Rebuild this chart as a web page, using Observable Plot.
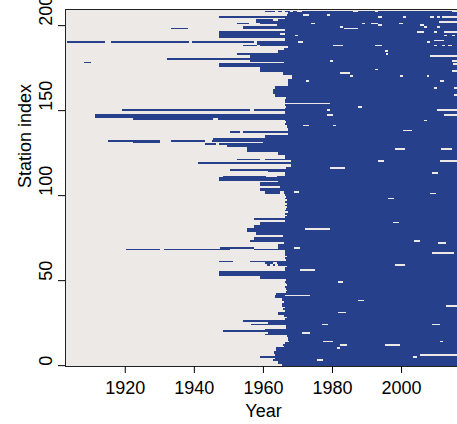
<!DOCTYPE html>
<html>
<head>
<meta charset="utf-8">
<script src="https://cdn.jsdelivr.net/npm/d3@7"></script>
<script src="https://cdn.jsdelivr.net/npm/@observablehq/plot@0.6"></script>
<style>
  html, body { margin: 0; padding: 0; background: #ffffff; overflow: hidden; }
  svg { max-width: none !important; }
</style>
</head>
<body>
<script>
// First year with (near-)continuous records, per station index 0..208
const stationStart = [
  1965.5, 1964.5, 1964.5, 1963, 1963.5, 1959.2, 1963.5, 1963.2, 1963.2, 1963.8,   // 0-9
  1963.8, 1966, 1965.7, 1966.5, 1967.5, 1967.4, 1967.4, 1967, 1960.6, 1961.5,     // 10-19
  1948.3, 1960.6, 1966.8, 1966.8, 1956.5, 1961.5, 1954.3, 1966.5, 1967, 1966,     // 20-29
  1964.3, 1964.3, 1966.5, 1965.7, 1966.5, 1965.5, 1965.5, 1966, 1965.5, 1965.5,   // 30-39
  1963.5, 1963.5, 1963.8, 1966.8, 1967, 1966.8, 1966.5, 1967, 1966.8, 1966.5,     // 40-49
  1966.8, 1959.1, 1959.1, 1947.2, 1947.2, 1947.2, 1966.5, 1966.5, 1967, 1964.5,   // 50-59
  1964, 1956.2, 1966.8, 1966.5, 1967, 1966.5, 1966.5, 1966.5, 1957.4, 1964.5,     // 60-69
  1964.5, 1964.5, 1966, 1956.4, 1957.4, 1957.4, 1965.7, 1958, 1958, 1955.5,       // 70-79
  1955.5, 1957.4, 1957.4, 1959.1, 1959.1, 1966.5, 1957.4, 1966.5, 1967, 1966.5,   // 80-89
  1967.4, 1966.5, 1966.8, 1967, 1966.5, 1967, 1966.5, 1967, 1966.5, 1966.8,       // 90-99
  1966.5, 1960.6, 1960.6, 1959.1, 1959.1, 1965, 1959.1, 1959.1, 1964.5, 1947.2,   // 100-109
  1947.2, 1948.3, 1966.5, 1966.5, 1961.4, 1950.4, 1966.8, 1968, 1968, 1941.2,     // 110-119
  1968, 1960.6, 1966.5, 1966.5, 1964.5, 1964.5, 1955.5, 1955.5, 1955.5, 1949.5,   // 120-129
  1947.2, 1960, 1945.4, 1945.6, 1960.6, 1960.6, 1967.4, 1954.1, 1967.4, 1967.4,   // 130-139
  1967, 1967, 1966.5, 1966.8, 1966.5, 1922.3, 1911.5, 1911.5, 1966.5, 1966.5,     // 140-149
  1957.4, 1966.5, 1966.8, 1966.5, 1979.4, 1966.5, 1966.5, 1966.8, 1963.5, 1963.5, // 150-159
  1963, 1963, 1963, 1963.5, 1963.5, 1967.4, 1967.4, 1967.4, 1967.4, 1968.5,       // 160-169
  1968.5, 1965.7, 1965.7, 1959.1, 1959.1, 1959.1, 1947.2, 1947.2, 1966, 1956.2,   // 170-179
  1932.2, 1956.2, 1956.2, 1952.4, 1964.5, 1964.5, 1966, 1966.5, 1959.1, 1958.2,   // 180-189
  1958.3, 1966.5, 1966.5, 1947.2, 1947.2, 1966.5, 1947.2, 1966.5, 1954.3, 1954.3, // 190-199
  1964, 1959.1, 1958, 1964.5, 1966.5, 1947.2, 1967, 1967.4, 1960.6                // 200-208
];

// Isolated early records: [station, from, to]
const earlyRuns = [
  [190, 1903.2, 1914.2], [190, 1916.1, 1938.6], [190, 1939.5, 1957.4],
  [198, 1933.5, 1938.3], [195, 1947.2, 1964.9], [201, 1952.4, 1956],
  [203, 1958, 1963], [188, 1954.3, 1958.2], [178, 1908.2, 1910.2],
  [150, 1919.3, 1956.2], [137, 1950.4, 1953.3],
  [132, 1915.2, 1930.1], [132, 1933.5, 1943.2], [131, 1922.4, 1930.1],
  [130, 1943.2, 1946.4], [121, 1952.4, 1959.1],
  [69, 1947.5, 1957.4], [68, 1920.3, 1930.3], [68, 1931.3, 1950.4],
  [61, 1947.3, 1951.4], [60, 1960.6, 1963], [59, 1961.2, 1962], [59, 1963, 1963.5]
];

// Missing periods inside records: [station, from, to]
const gaps = [
  [208, 1963.5, 1964.3], [208, 1965.4, 1966.4], [208, 1967.8, 1968.8], [208, 1969.8, 1971.2],
  [208, 1986.2, 1987.6], [208, 1992.5, 1993.4], [208, 2014.7, 2017.5],
  [206, 1971.5, 1973.4], [206, 1978.5, 1979.4],
  [205, 1993.4, 1994.4], [205, 2000.5, 2001.4], [205, 2008.4, 2009.4], [205, 2010.3, 2011.3], [205, 2011.8, 2017.5],
  [202, 2011, 2017.5],
  [201, 1974, 1975], [201, 1988.6, 1989.6], [201, 1991.3, 1993.4], [201, 1999.5, 2000.5],
  [200, 2005.5, 2006.7], [200, 1993.4, 1994.4],
  [199, 1982.3, 1983.3], [199, 2010.3, 2011.3], [199, 2006.5, 2007.4],
  [198, 1983.5, 1987.6],
  [196, 2004.5, 2006.5], [196, 2009.4, 2010.3], [196, 2012.3, 2017.5],
  [194, 1969.3, 1970.2], [194, 2012.3, 2013.3], [194, 2014.7, 2015.7],
  [191, 2009.4, 2012.3],
  [190, 1970.2, 1971.5], [190, 2007.4, 2008.4],
  [188, 1980.4, 1983.3], [188, 1992.5, 1994.4], [188, 2009.4, 2010.3], [188, 2011.8, 2012.8], [188, 2013.7, 2014.7],
  [187, 1966.4, 1967.3],
  [185, 1995.4, 1996.3], [183, 1995.7, 1996.3],
  [182, 2008.4, 2017.5],
  [179, 1979.4, 1980.4], [179, 2014.7, 2017.5],
  [177, 2015, 2017.5], [174, 1992.5, 1993.4], [173, 2014.7, 2017.5],
  [172, 1982.3, 1985.2],
  [170, 1985.2, 1986.2], [170, 1999.7, 2000.5], [170, 2007.4, 2008.2],
  [167, 1972.5, 1973.4], [167, 2011.3, 2012.3],
  [163, 2009.4, 2010.3], [163, 2015.3, 2017.5], [159, 2015.3, 2017.5],
  [152, 1987.6, 1988.6],
  [150, 1978.5, 1979.4], [150, 2010.3, 2017.5],
  [147, 1978.5, 1980.2], [147, 2012.3, 2017.5],
  [145, 1945.5, 1947], [144, 2006.5, 2007.4],
  [141, 1971.7, 1973.4], [141, 1980.4, 1981.3],
  [138, 2000.6, 2003.2],
  [127, 1998.3, 2001.2], [127, 2011.6, 2014.8],
  [120, 2011.3, 2017.5], [120, 1993.3, 1995],
  [116, 1979.4, 1983.8], [113, 2009, 2010.7], [111, 1961, 1964],
  [101, 1965, 1966.2], [102, 1965, 1966.2], [102, 1969, 1970.4], [101, 2008.4, 2010.1],
  [98, 1996.2, 1998], [84, 1997.7, 1999.4], [80, 1972.2, 1979.4],
  [73, 2003.8, 2005.5], [72, 2010.7, 2013], [69, 1969, 1970.7], [66, 2009, 2015.4],
  [59, 1998.3, 2001.2], [56, 1970.7, 1975], [49, 1981.7, 1983.2], [41, 1966.4, 1973.6],
  [38, 1987.5, 1989.3], [35, 2013, 2017.5], [31, 1981.7, 1984],
  [24, 1977.1, 1978.8], [24, 2009, 2011.3], [19, 1971.3, 1973.6],
  [14, 1977.4, 1980.3], [14, 2011.3, 2012.2],
  [12, 1982.3, 1984.3], [12, 1995.4, 1999.7], [10, 1981.4, 1982.3],
  [6, 2005.5, 2017.5], [5, 2003.5, 2004.6], [3, 1975.7, 1977.4]
];

const lastYear = 2017;
const xTicks = [1920, 1940, 1960, 1980, 2000];
const yTicks = [0, 50, 100, 150, 200];
const xTitle = "Year";
const yTitle = "Station index";

// Build record segments (main record minus gaps, plus early runs)
const segs = [];
stationStart.forEach((start, s) => {
  let pieces = [[start, lastYear]];
  for (const [gs, g0, g1] of gaps) {
    if (gs !== s) continue;
    pieces = pieces.flatMap(([a, b]) =>
      (g1 <= a || g0 >= b) ? [[a, b]] : [[a, g0], [g1, b]].filter(([p, q]) => q > p));
  }
  pieces.forEach(([a, b]) => segs.push({station: s, x1: a, x2: b}));
});
earlyRuns.forEach(([s, a, b]) => segs.push({station: s, x1: a, x2: b}));

const blue = "#27408B";
const bg = "#ECE9E7";
const font = "'Liberation Sans', Arial, Helvetica, sans-serif";

const chart = Plot.plot({
  width: 470,
  height: 424,
  marginLeft: 65,
  marginRight: 9,
  marginTop: 9,
  marginBottom: 58,
  style: {fontFamily: font, fontSize: "18px", color: "#000", background: "#fff", maxWidth: "none"},
  x: {domain: [1902.7, 2017.35]},
  y: {domain: [-0.5, 209.5]},
  marks: [
    Plot.frame({fill: bg, stroke: null}),
    Plot.rect(segs, {
      x1: "x1", x2: "x2",
      y1: d => d.station - 0.5, y2: d => d.station + 0.5,
      fill: blue, clip: true, shapeRendering: "crispEdges"
    }),
    Plot.frame({stroke: "#222", strokeWidth: 1}),
    Plot.axisX({ticks: xTicks, tickSize: 7, tickPadding: 8, tickFormat: d => String(d), label: null, fontSize: 18, stroke: "#000"}),
    Plot.axisY({ticks: yTicks, tickSize: 7, tickFormat: () => "", label: null}),
    Plot.text(yTicks, {y: d => d, text: d => String(d), frameAnchor: "left", dx: -19, rotate: -90, fontSize: 18, fill: "#000"}),
    Plot.text([xTitle], {text: d => d, frameAnchor: "bottom", dy: 50, fontSize: 18, fill: "#000"}),
    Plot.text([yTitle], {text: d => d, frameAnchor: "left", dx: -40, rotate: -90, fontSize: 18, fill: "#000"})
  ]
});
chart.style.maxWidth = "none";
document.body.appendChild(chart);
</script>
</body>
</html>
